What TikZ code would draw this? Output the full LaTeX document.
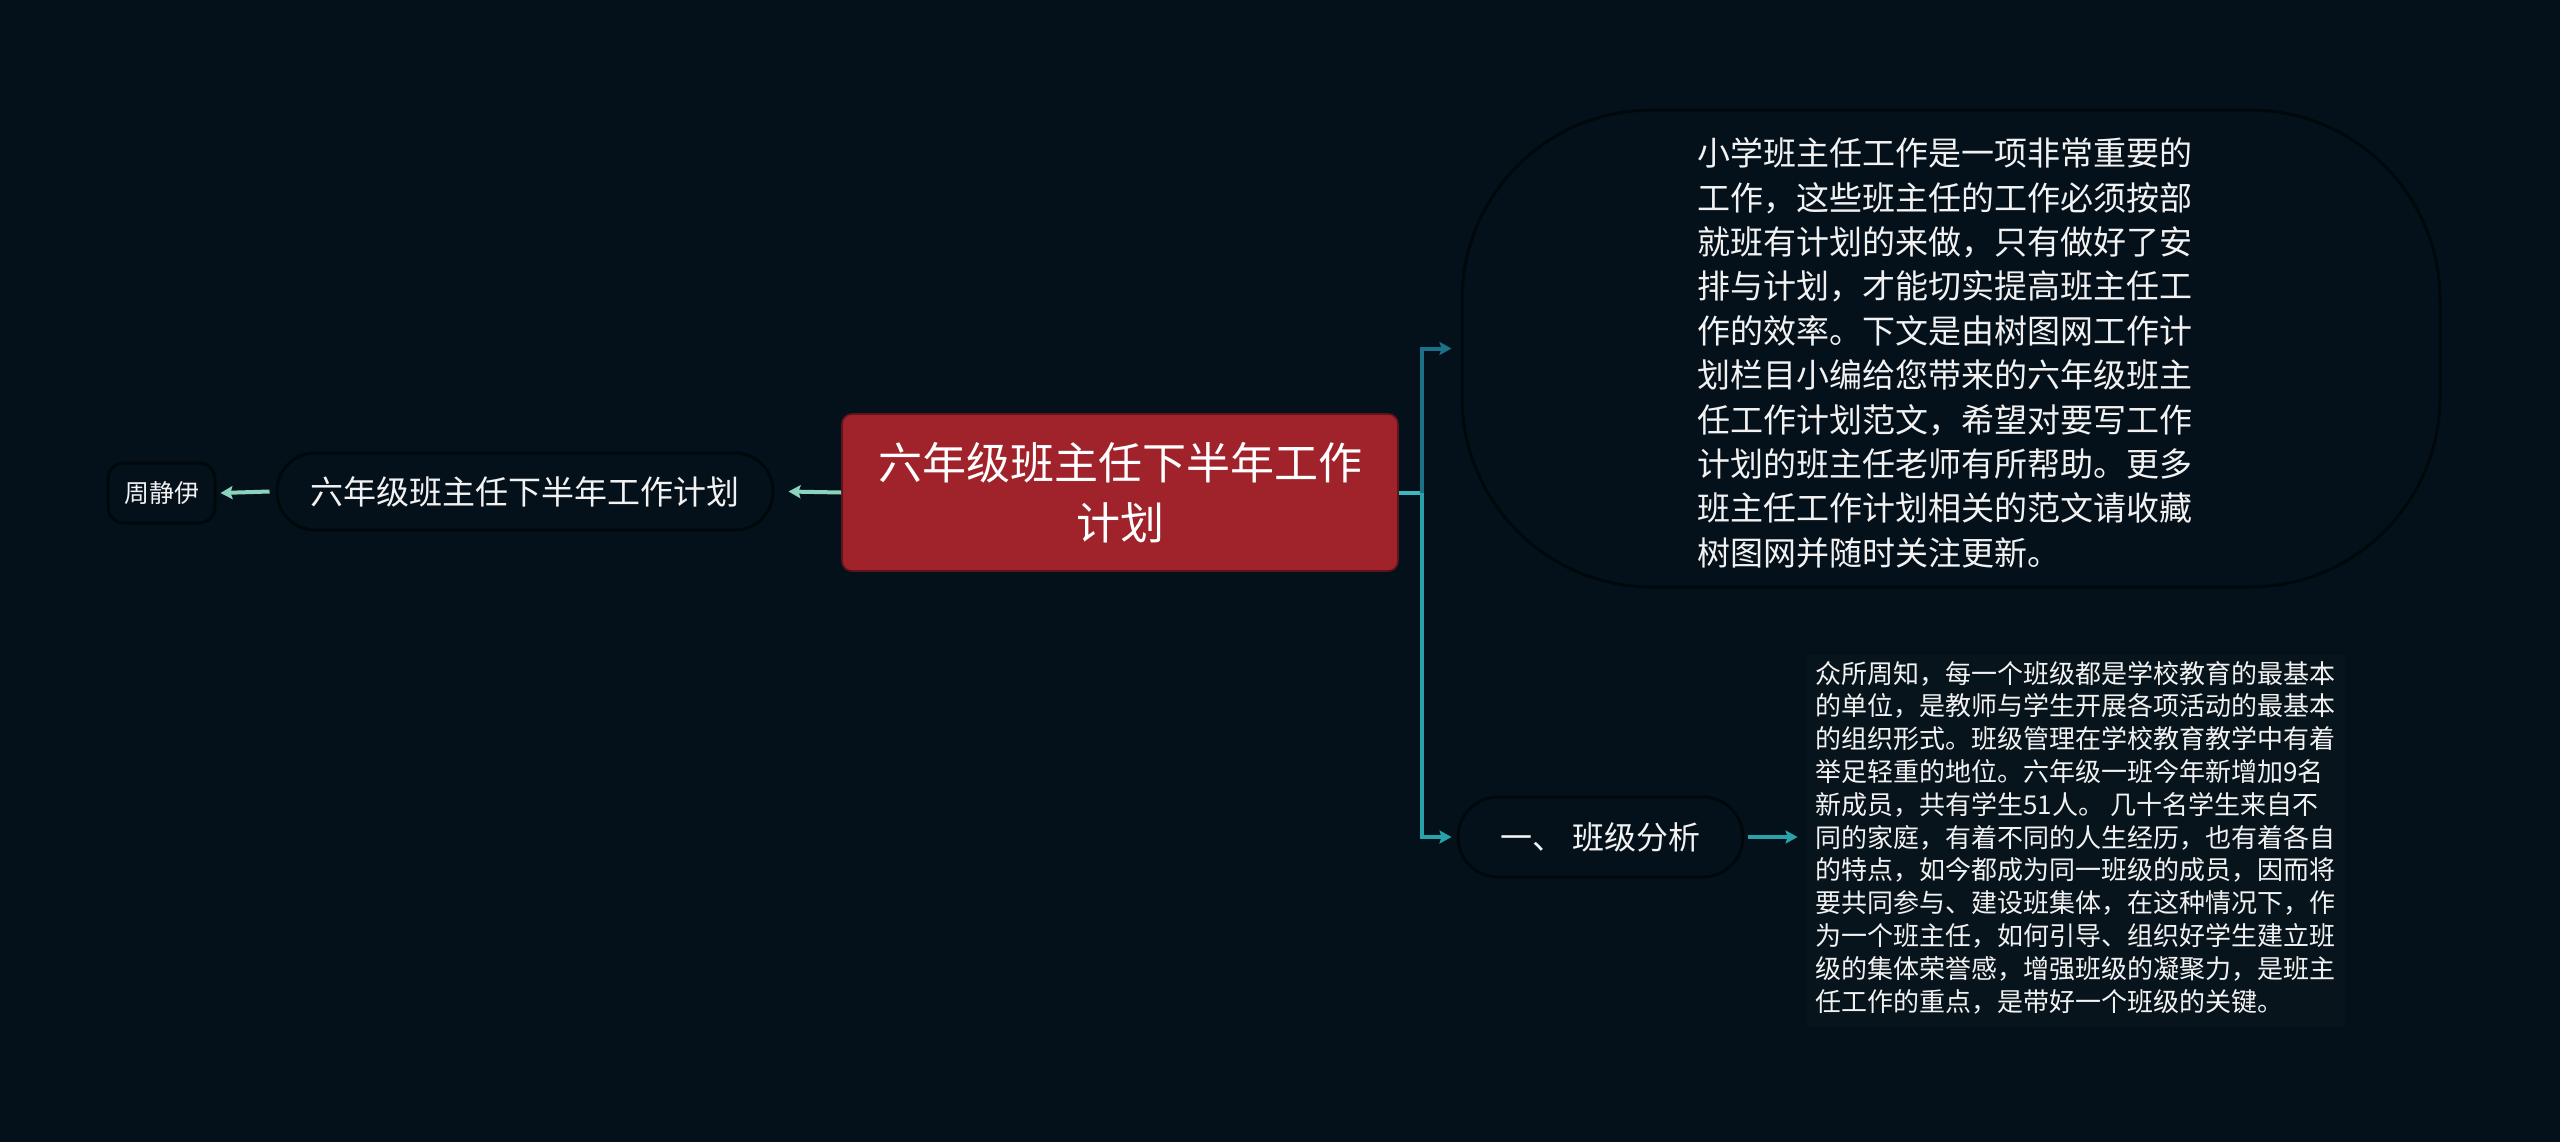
\documentclass[tikz,border=0pt]{standalone}
\usepackage{fontspec}
\setmainfont{Noto Sans CJK SC}
\usetikzlibrary{arrows.meta}
\definecolor{bgc}{HTML}{04111A}
\definecolor{rootc}{HTML}{A0222A}
\definecolor{mintc}{HTML}{8CD3BE}
\definecolor{joinc}{HTML}{3DB8BF}
\definecolor{topc}{HTML}{1C7088}
\definecolor{botc}{HTML}{29A3AA}
\definecolor{edgec}{HTML}{01080C}
\definecolor{detc}{HTML}{07141C}
\definecolor{txtc}{HTML}{F2F2F2}
\tikzset{
  conn/.style={line width=2pt},
  tip/.style={-{Stealth[length=6pt,width=6.5pt,inset=1pt]}},
  subtle/.style={draw=edgec, line width=1.5pt},
}
\begin{document}
\begin{tikzpicture}[x=0.5pt,y=-0.5pt]
\fill[bgc] (0,0) rectangle (2560,1142);
\useasboundingbox (0,0) rectangle (2560,1142);

% root
\node[fill=rootc, draw=rootc!60!black, line width=0.8pt, rounded corners=5pt,
      minimum width=278pt, minimum height=78.5pt, inner sep=0pt,
      text=white, align=center, font=\fontsize{22pt}{30pt}\selectfont]
  (root) at (1120,492.5) {六年级班主任下半年工作\\计划};

% left branch
\node[subtle, rounded corners=19pt, minimum width=248pt, minimum height=38.5pt,
      inner sep=0pt, text=txtc, font=\fontsize{16.5pt}{20pt}\selectfont]
  (left) at (525,491.5) {六年级班主任下半年工作计划};
\node[subtle, rounded corners=8pt, minimum width=53.5pt, minimum height=30pt,
      inner sep=0pt, text=txtc, font=\fontsize{12.5pt}{15pt}\selectfont]
  (zhou) at (161.5,493) {周静伊};

\draw[conn, tip, mintc] (root.west) -- ([xshift=7pt]left.east);
\draw[conn, tip, mintc] ([xshift=-3pt]left.west) -- ([xshift=2pt]zhou.east);

% right top
\node[draw=edgec, line width=1.5pt, rounded corners=95pt,
      minimum width=489pt, minimum height=238.5pt, inner sep=0pt] (top) at (1951,348.5) {};
\node[text=txtc, align=left, inner sep=0pt, font=\fontsize{16.5pt}{22.2pt}\selectfont]
  (toptext) at (1945,353) {小学班主任工作是一项非常重要的\\工作，这些班主任的工作必须按部\\就班有计划的来做，只有做好了安\\排与计划，才能切实提高班主任工\\作的效率。下文是由树图网工作计\\划栏目小编给您带来的六年级班主\\任工作计划范文，希望对要写工作\\计划的班主任老师有所帮助。更多\\班主任工作计划相关的范文请收藏\\树图网并随时关注更新。};

% right bottom
\node[subtle, rounded corners=20pt, minimum width=142.5pt, minimum height=40pt,
      inner sep=0pt, text=txtc, font=\fontsize{16pt}{20pt}\selectfont]
  (mid) at (1600.5,837) {一、 班级分析};
\node[fill=detc, minimum width=269pt, minimum height=186pt, inner sep=0pt] (det) at (2076,841) {};
\node[text=txtc, align=left, inner sep=0pt, font=\fontsize{13pt}{16.4pt}\selectfont]
  (dettext) at (2075.5,837.5) {众所周知，每一个班级都是学校教育的最基本\\的单位，是教师与学生开展各项活动的最基本\\的组织形式。班级管理在学校教育教学中有着\\举足轻重的地位。六年级一班今年新增加9名\\新成员，共有学生51人。 几十名学生来自不\\同的家庭，有着不同的人生经历，也有着各自\\的特点，如今都成为同一班级的成员，因而将\\要共同参与、建设班集体，在这种情况下，作\\为一个班主任，如何引导、组织好学生建立班\\级的集体荣誉感，增强班级的凝聚力，是班主\\任工作的重点，是带好一个班级的关键。};

% connectors right
\coordinate (split) at (1422,492.5);
\coordinate (detin) at ([xshift=-4.5pt]mid.east -| det.west);
\draw[conn, joinc] (root.east) -- (split);
\draw[conn, tip, topc] (split) |- ([xshift=-4.5pt]top.west);
\draw[conn, tip, botc] (split) |- ([xshift=-2.5pt]mid.west);
\draw[conn, tip, botc] ([xshift=1.5pt]mid.east) -- (detin);
\end{tikzpicture}
\end{document}
